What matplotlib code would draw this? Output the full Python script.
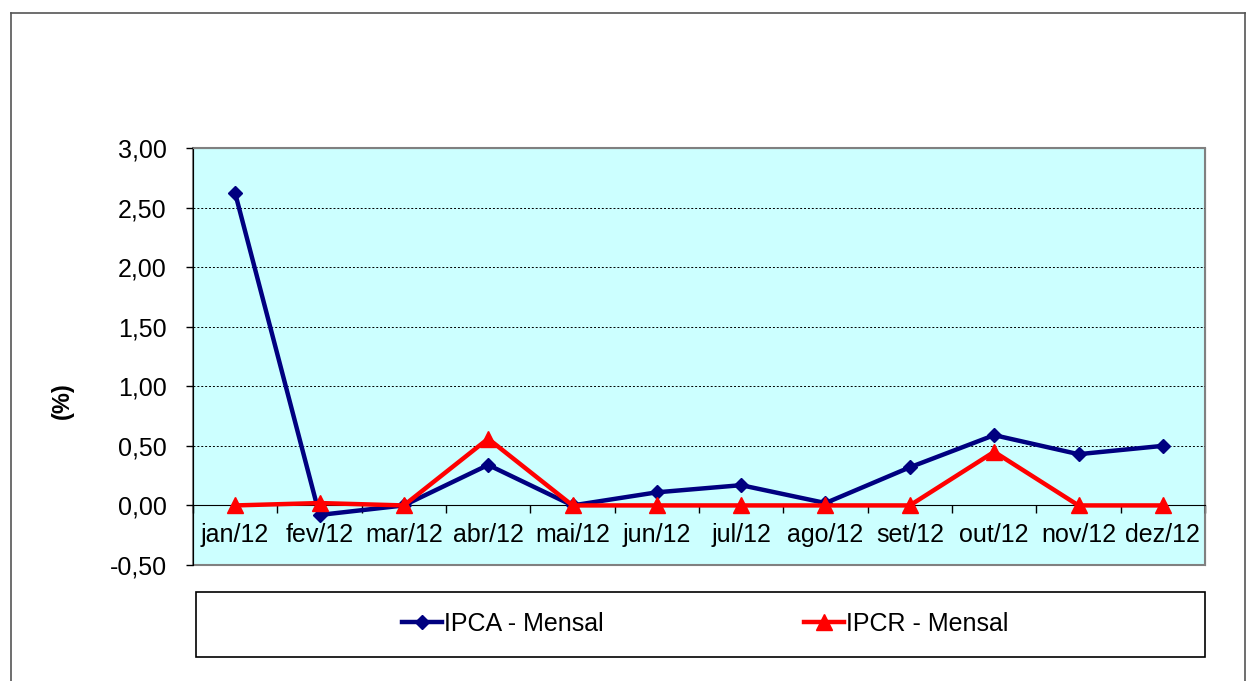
import matplotlib.pyplot as plt
from matplotlib.patches import Rectangle
from matplotlib.lines import Line2D
from matplotlib.ticker import FuncFormatter, FixedLocator

meses = ["jan/12", "fev/12", "mar/12", "abr/12", "mai/12", "jun/12",
         "jul/12", "ago/12", "set/12", "out/12", "nov/12", "dez/12"]
ipca = [2.62, -0.08, 0.00, 0.34, 0.00, 0.11, 0.17, 0.02, 0.32, 0.59, 0.43, 0.50]
ipcr = [0.00, 0.02, 0.00, 0.56, 0.00, 0.00, 0.00, 0.00, 0.00, 0.45, 0.00, 0.00]

plt.rcParams['font.family'] = ['Liberation Sans', 'DejaVu Sans']

W, H = 1252, 681
fig = plt.figure(figsize=(W / 100, H / 100), dpi=100)

# outer chart frame
fig.add_artist(Line2D([11 / W, 11 / W], [0, 1 - 13 / H], transform=fig.transFigure, color='#555555', lw=1.2))
fig.add_artist(Line2D([11 / W, 1245 / W], [1 - 13 / H, 1 - 13 / H], transform=fig.transFigure, color='#555555', lw=1.2))
fig.add_artist(Line2D([1245 / W, 1245 / W], [0, 1 - 13 / H], transform=fig.transFigure, color='#555555', lw=1.2))

ax = fig.add_axes([193 / W, 1 - 565 / H, (1205 - 193) / W, (565 - 148) / H])
ax.set_facecolor('#CCFFFF')

x = list(range(len(meses)))
ax.plot(x, ipca, color='#000080', lw=3.2, marker='D', ms=7.5, label='IPCA - Mensal', zorder=3)
ax.plot(x, ipcr, color='#FF0000', lw=3.2, marker='^', ms=11, label='IPCR - Mensal', zorder=4)

ax.set_xlim(-0.5, 11.5)
ax.set_ylim(-0.5, 3.0)
ax.set_yticks([-0.5, 0, 0.5, 1.0, 1.5, 2.0, 2.5, 3.0])
ax.yaxis.set_major_formatter(FuncFormatter(lambda v, p: f"{v:.2f}".replace('.', ',')))
ax.tick_params(axis='y', length=5, width=1, labelsize=18, pad=14, color='black')

for g in [0.5, 1.0, 1.5, 2.0, 2.5, 3.0]:
    ax.axhline(g, color='black', lw=0.7, ls=(0, (2, 2)), zorder=1)

ax.spines['bottom'].set_position(('data', 0))
ax.spines['bottom'].set_color('black')
ax.spines['left'].set_color('black')
ax.spines['top'].set_color('#808080')
ax.spines['right'].set_color('#808080')
ax.add_patch(Rectangle((0, 0), 1, 1, transform=ax.transAxes, fill=False,
                       edgecolor='#808080', lw=1.5, zorder=0.5, clip_on=False))

ax.set_xticks(x)
ax.set_xticklabels(meses)
ax.xaxis.set_minor_locator(FixedLocator([i + 0.5 for i in range(-1, 12)]))
ax.tick_params(axis='x', which='major', length=0, labelsize=18, pad=13)
ax.tick_params(axis='x', which='minor', length=6, width=1, color='black')

fig.text(62 / W, 1 - 401 / H, '(%)', rotation=90, fontsize=17, fontweight='bold',
         ha='center', va='center')

# legend box
fig.add_artist(Rectangle((196 / W, 1 - 657 / H), (1205 - 196) / W, (657 - 592) / H,
                         transform=fig.transFigure, fill=False, edgecolor='black', lw=1.2))
fig.legend(loc='center', bbox_to_anchor=(705 / W, 1 - 624 / H), ncol=2, frameon=False,
           fontsize=18, handlelength=1.6, handletextpad=0.1, columnspacing=8.0)

fig.savefig('out.png', dpi=100)
